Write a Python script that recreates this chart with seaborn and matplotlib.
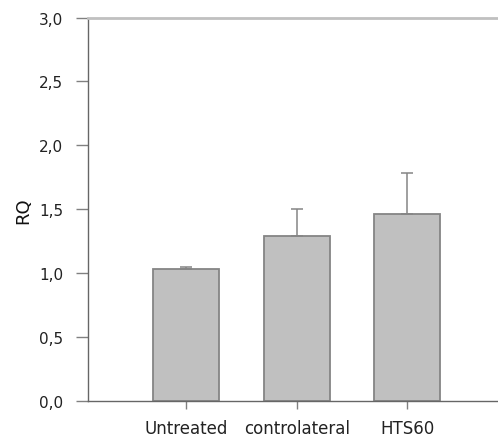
"""Bar chart of RQ per treatment group with upward error bars."""
import matplotlib
matplotlib.use("Agg")
import matplotlib.pyplot as plt
import matplotlib.ticker as mticker
import numpy as np
import pandas as pd
import seaborn as sns

groups = ["Untreated", "controlateral", "HTS60"]
rq_values = [1.03, 1.29, 1.465]
rq_errors = [0.02, 0.21, 0.315]

sns.set_style("white")
plt.rcParams["font.family"] = ["DejaVu Sans"]

df = pd.DataFrame({"group": groups, "rq": rq_values})

fig = plt.figure(figsize=(4.98, 4.39), dpi=100)
ax = fig.add_axes([0.1767, 0.0843, 0.8233, 0.8735])

sns.barplot(
    data=df, x="group", y="rq", color="#c0c0c0", saturation=1,
    width=0.6, edgecolor="#858585", linewidth=1.3, errorbar=None, ax=ax,
)
x = np.arange(len(groups))
ax.errorbar(
    x, rq_values, yerr=[np.zeros(len(rq_errors)), rq_errors],
    fmt="none", ecolor="#858585", elinewidth=1.1, capsize=4, capthick=1.1,
)

ax.set_xlim(-0.887, 2.82)
ax.set_ylim(0, 3.0)
ax.yaxis.set_major_locator(mticker.MultipleLocator(0.5))
ax.yaxis.set_major_formatter(
    mticker.FuncFormatter(lambda v, _: f"{v:.1f}".replace(".", ","))
)
ax.set_xlabel("")
ax.set_ylabel("RQ", fontsize=13, color="#111111", labelpad=5)

ax.spines["right"].set_visible(False)
ax.spines["top"].set_color("#c0c0c0")
ax.spines["top"].set_linewidth(2)
for side in ["left", "bottom"]:
    ax.spines[side].set_color("#666666")
    ax.spines[side].set_linewidth(1)

ax.tick_params(axis="y", direction="out", length=9, width=1, color="#808080",
               labelsize=11, labelcolor="#222222", left=True, pad=9)
ax.tick_params(axis="x", direction="out", length=6, width=1, color="#808080",
               labelsize=12, labelcolor="#222222", bottom=True, pad=7)

plt.savefig("out.png", dpi=100)
plt.close(fig)
